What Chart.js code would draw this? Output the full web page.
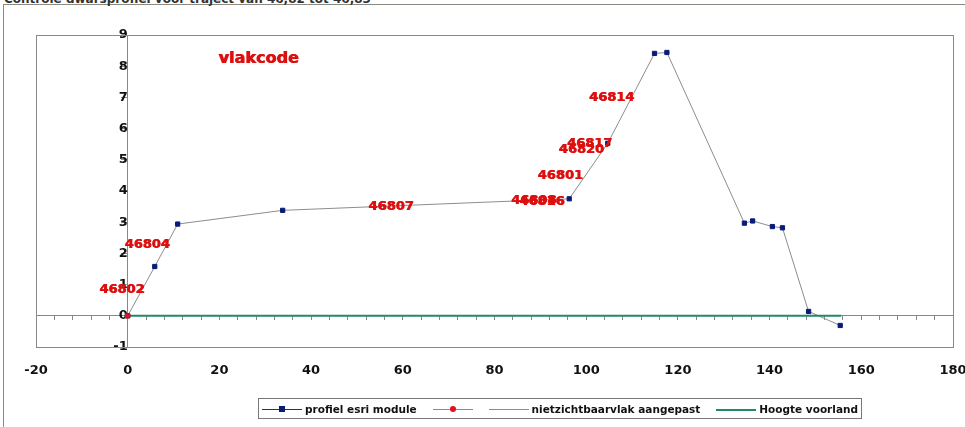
<!DOCTYPE html>
<html>
<head>
<meta charset="utf-8">
<script src="https://cdn.jsdelivr.net/npm/chart.js@4.4.1/dist/chart.umd.min.js"></script>
<style>
  html, body { margin: 0; padding: 0; background: #fff; }
  #wrap { position: relative; width: 965px; height: 427px; overflow: hidden; font-family: "DejaVu Sans", sans-serif; }
  #frame { position: absolute; left: 3px; top: 4px; width: 980px; height: 440px; border: 1px solid #8a8a80; }
  #titel { position: absolute; left: 4px; top: -8px; font: bold 12px "DejaVu Sans", sans-serif; color: #333; white-space: nowrap; }
  #chart { position: absolute; left: 0; top: 0; }
  #legend { position: absolute; left: 258px; top: 398px; width: 596px; height: 19px; border: 1px solid #777;
            padding: 0 3px; display: flex; align-items: center; justify-content: space-between;
            font: bold 10.5px "DejaVu Sans", sans-serif; color: #111; white-space: nowrap; }
  .item { display: flex; align-items: center; flex-shrink: 0; }
  .sym { position: relative; width: 40px; height: 10px; margin-right: 3px; flex-shrink: 0; }
  .sym .ln { position: absolute; left: 0; right: 0; top: 5px; }
  .sym .mk { position: absolute; left: 17px; top: 2px; width: 6px; height: 6px; }
</style>
</head>
<body>
<div id="wrap">
  <div id="frame"></div>
  <div id="titel">Controle dwarsprofiel voor traject van 46,82 tot 46,83</div>
  <canvas id="chart" width="965" height="427"></canvas>
  <div id="legend"></div>
</div>
<script>
// --- data ---
const profielX = [0, 5.9, 10.9, 33.8, 96.3, 104.7, 114.9, 117.6, 134.5, 136.3, 140.6, 142.8, 148.5, 155.4];
const profielY = [0, 1.58, 2.94, 3.38, 3.75, 5.53, 8.41, 8.44, 2.97, 3.04, 2.86, 2.82, 0.14, -0.31];

const vlakX = [0];
const vlakY = [0];

const voorlandX = [0, 155.6];
const voorlandY = [0, 0];

// labels van de vlakcodes
const codeTekst = ["46802", "46804", "46807", "46808", "46816", "46801", "46820", "46817", "46814"];
const codeX = [-1.2, 4.3, 57.5, 88.6, 90.4, 94.4, 99.0, 100.8, 105.6];
const codeY = [0.84, 2.27, 3.51, 3.68, 3.66, 4.5, 5.34, 5.53, 7.0];

const xTicks = [-20, 0, 20, 40, 60, 80, 100, 120, 140, 160, 180];
const yTicks = [-1, 0, 1, 2, 3, 4, 5, 6, 7, 8, 9];

const pts = (xs, ys) => xs.map((x, i) => ({ x, y: ys[i] }));

const datasets = [
  { label: "profiel esri module", data: pts(profielX, profielY), showLine: false,
    pointStyle: "rect", pointRadius: 3, pointBackgroundColor: "#0a1a78", pointBorderColor: "#0a1a78",
    borderColor: "#1a2a9a", order: 2 },
  { label: "", data: pts(vlakX, vlakY), showLine: false,
    pointStyle: "rect", pointRadius: 3, pointBackgroundColor: "#e01020", pointBorderColor: "#e01020",
    borderColor: "#f04040", order: 1 },
  { label: "nietzichtbaarvlak aangepast", data: pts(profielX, profielY), showLine: true,
    borderColor: "#8c8c8c", borderWidth: 1, pointRadius: 0, order: 4 },
  { label: "Hoogte voorland", data: pts(voorlandX, voorlandY), showLine: true,
    borderColor: "#1f8a6a", borderWidth: 2, pointRadius: 0, order: 3 }
];

// vette tekst: twee keer vullen met kleine verschuiving
function dikTekst(ctx, t, x, y) {
  ctx.fillText(t, x - 0.4, y);
  ctx.fillText(t, x + 0.4, y);
}

// kader om het plotgebied + vlakcode labels
const extras = {
  id: "extras",
  beforeDatasetsDraw(chart) {
    const { ctx, chartArea: a } = chart;
    ctx.save();
    ctx.strokeStyle = "#8a8a84";
    ctx.lineWidth = 1;
    ctx.strokeRect(a.left + 0.5, a.top + 0.5, a.right - a.left, a.bottom - a.top);
    ctx.restore();
  },
  afterDatasetsDraw(chart) {
    const { ctx, scales } = chart;
    ctx.save();
    ctx.fillStyle = "#dd1010";
    ctx.textAlign = "center";
    ctx.textBaseline = "middle";
    ctx.font = "bold 13px 'DejaVu Sans'";
    codeTekst.forEach((t, i) => {
      dikTekst(ctx, t, scales.x.getPixelForValue(codeX[i]), scales.y.getPixelForValue(codeY[i]));
    });
    ctx.font = "bold 16px 'DejaVu Sans'";
    dikTekst(ctx, "vlakcode", scales.x.getPixelForValue(28.6), scales.y.getPixelForValue(8.23));
    ctx.restore();
  }
};

const tickFont = { family: "DejaVu Sans", size: 13, weight: "bold" };

new Chart(document.getElementById("chart"), {
  type: "scatter",
  data: { datasets },
  options: {
    responsive: false,
    animation: false,
    devicePixelRatio: 1,
    layout: { padding: { left: 36, top: 35, right: 12, bottom: 50 } },
    plugins: { legend: { display: false }, tooltip: { enabled: false } },
    scales: {
      x: {
        type: "linear", position: "bottom", min: -20, max: 180,
        afterBuildTicks: s => { s.ticks = xTicks.map(v => ({ value: v })); },
        afterFit: s => { s.height = 30; s.paddingLeft = 0; s.paddingRight = 0; },
        grid: { display: false, drawTicks: false },
        border: { display: false },
        ticks: { color: "#111", font: tickFont, padding: 16 }
      },
      x2: {
        type: "linear", axis: "x", position: { y: 0 }, min: -20, max: 180,
        ticks: { display: false, stepSize: 4 },
        grid: { drawOnChartArea: false, tickLength: 4, color: "#888" },
        border: { display: true, color: "#888" }
      },
      y: {
        type: "linear", position: { x: 0 }, min: -1, max: 9,
        afterBuildTicks: s => { s.ticks = yTicks.map(v => ({ value: v })); },
        grid: { drawOnChartArea: false, tickLength: 6, color: "#888" },
        border: { display: true, color: "#888" },
        ticks: { color: "#111", font: tickFont, padding: 3 }
      }
    }
  },
  plugins: [extras]
});

// legenda onder de grafiek
const legend = document.getElementById("legend");
const legendItems = [
  { label: datasets[0].label, line: "#1a2a9a", marker: "#0a1a78", round: false },
  { label: datasets[1].label, line: "#f06060", marker: "#e01020", round: true },
  { label: datasets[2].label, line: "#8c8c8c", marker: null },
  { label: datasets[3].label, line: "#1f8a6a", marker: null, thick: true }
];
legendItems.forEach(it => {
  const item = document.createElement("div");
  item.className = "item";
  const sym = document.createElement("div");
  sym.className = "sym";
  const ln = document.createElement("div");
  ln.className = "ln";
  ln.style.borderTop = (it.thick ? 2 : 1) + "px solid " + it.line;
  sym.appendChild(ln);
  if (it.marker) {
    const mk = document.createElement("div");
    mk.className = "mk";
    mk.style.background = it.marker;
    if (it.round) mk.style.borderRadius = "50%";
    sym.appendChild(mk);
  }
  item.appendChild(sym);
  if (it.label) {
    const txt = document.createElement("span");
    txt.textContent = it.label;
    item.appendChild(txt);
  } else {
    sym.style.marginRight = "0";
  }
  legend.appendChild(item);
});
</script>
</body>
</html>
